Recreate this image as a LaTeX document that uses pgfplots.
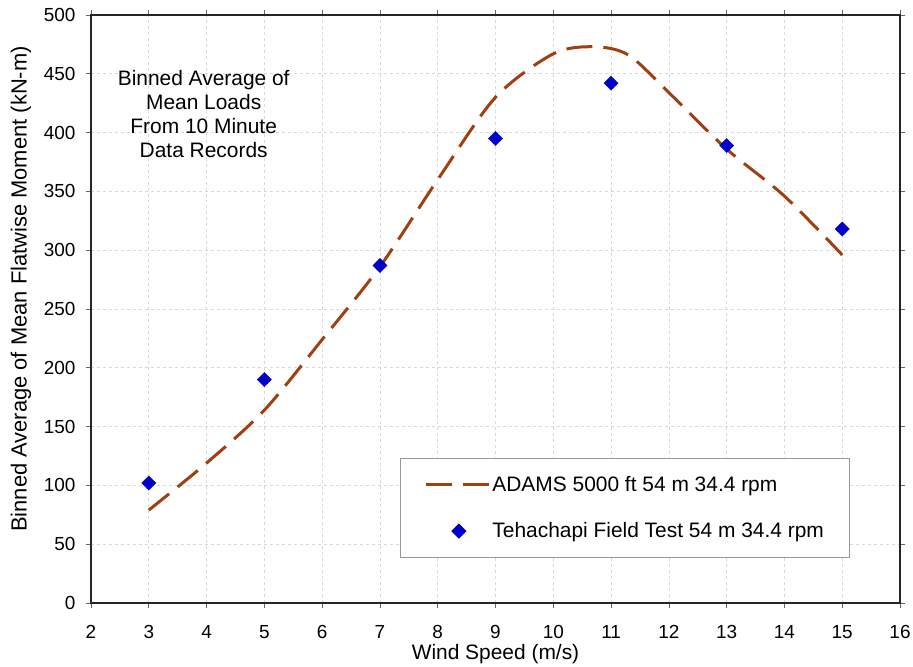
\documentclass[border=0pt]{standalone}
\usepackage{pgfplots}
\pgfplotsset{compat=1.18}
\usepackage{fontspec}
\setmainfont{Liberation Sans}
\definecolor{adams}{RGB}{160,64,16}
\definecolor{field}{RGB}{0,0,200}
\begin{document}
\begin{tikzpicture}[x=1bp,y=1bp]
\begin{axis}[
  scale only axis,
  width=809bp, height=588bp,
  xmin=2, xmax=16, ymin=0, ymax=500,
  xtick={2,3,...,16}, ytick={0,50,...,500},
  font=\fontsize{21}{24}\selectfont,
  /pgf/number format/assume math mode=true,
  tick label style={font=\fontsize{19}{22}\selectfont},
  xticklabel style={yshift=-14bp},
  yticklabel style={xshift=-7bp},
  xlabel={Wind Speed (m/s)},
  ylabel={Binned Average of Mean Flatwise Moment (kN-m)},
  xlabel style={yshift=1bp},
  ylabel style={yshift=6bp, xshift=20bp, font=\fontsize{22}{24}\selectfont},
  axis line style={line width=1.5bp, black!85},
  tick style={black!60, line width=0.6bp},
  tick align=outside,
  major tick length=5bp,
  grid=major,
  grid style={dashed, black!15, line width=0.6bp},
  legend style={at={(rel axis cs:0.382,0.247)}, anchor=north west,
    draw=black!40, line width=0.8bp, font=\fontsize{21}{24}\selectfont,
    inner xsep=24bp, inner ysep=16bp, row sep=26bp},
  legend cell align=left,
  legend image code/.code={\draw[#1] (0bp,0bp) -- (63bp,0bp);},
]
\addplot[adams, line width=3bp, smooth, dash pattern=on 26bp off 11bp] coordinates {
(3,79) (4,119) (5,164) (6,224) (7,286) (8,360) (9,430) (10,467) (10.7,473) (11.3,466) (12,434) (13,386) (14,346) (15,296)};
\addlegendentry{ADAMS 5000 ft 54 m 34.4 rpm}
\addplot[only marks, mark=square*, mark size=5bp, field, mark options={fill=field, draw=field, rotate=45},
  legend image code/.code={\draw[only marks, mark=square*, mark size=5bp, mark options={fill=field,draw=field,rotate=45}] plot coordinates {(33bp,0bp)};}] coordinates {
(3,102) (5,190) (7,287) (9,395) (11,442) (13,389) (15,318)};
\addlegendentry{Tehachapi Field Test 54 m 34.4 rpm}
\node[align=center, font=\fontsize{21}{24}\selectfont] at (axis cs:3.95,416) {Binned Average of\\Mean Loads\\From 10 Minute\\Data Records};
\end{axis}
\pgfresetboundingbox
\path[use as bounding box] (current axis.south west) ++(-91bp,-64bp) rectangle ([xshift=13bp,yshift=15bp]current axis.north east);
\end{tikzpicture}
\end{document}
